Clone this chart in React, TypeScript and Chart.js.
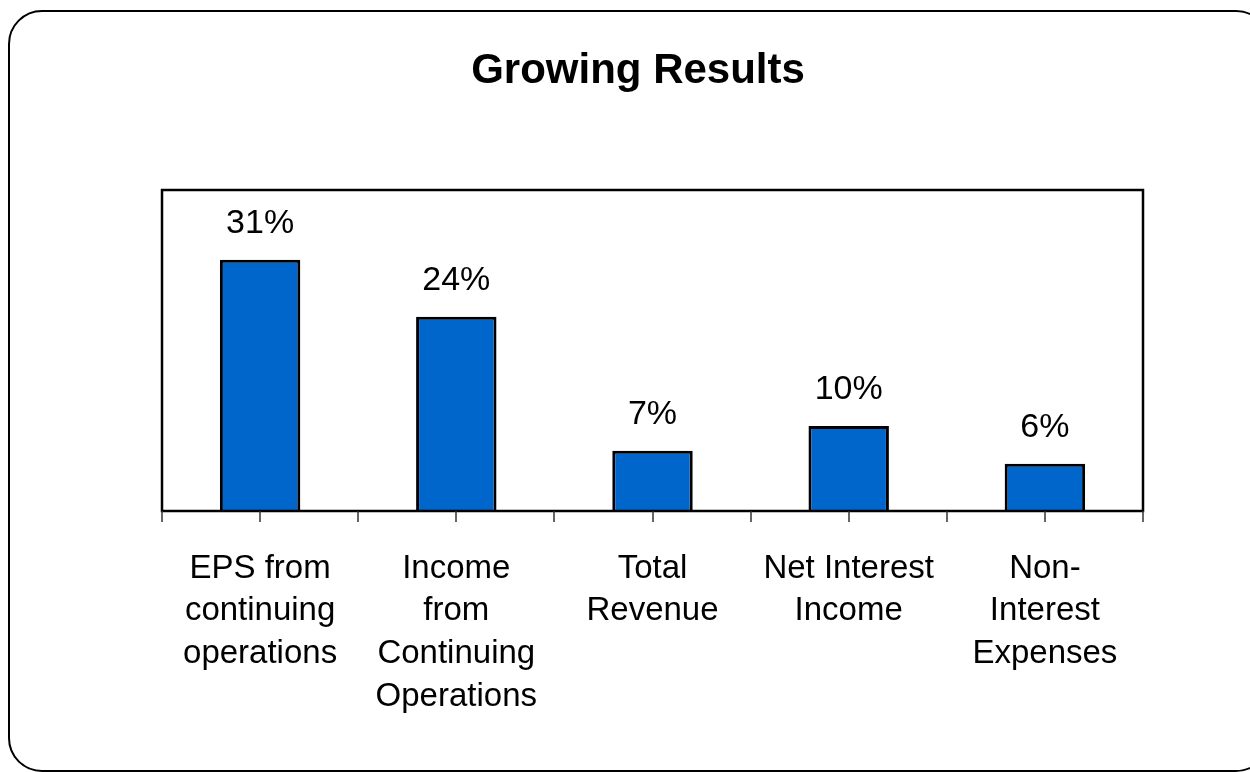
import React, { useEffect, useRef } from "react";
import { Chart, registerables } from "chart.js";

Chart.register(...registerables);

const categories: string[][] = [
  ["EPS from", "continuing", "operations"],
  ["Income", "from", "Continuing", "Operations"],
  ["Total", "Revenue"],
  ["Net Interest", "Income"],
  ["Non-", "Interest", "Expenses"],
];
const growthValues: number[] = [31.3, 24.2, 7.5, 10.6, 5.9];
const valueLabels: string[] = ["31%", "24%", "7%", "10%", "6%"];
const chartTitle = "Growing Results";

const FONT = "'Liberation Sans', Arial, sans-serif";

export default function App() {
  const ref = useRef<HTMLCanvasElement | null>(null);

  useEffect(() => {
    document.body.style.margin = "0";
    const canvas = ref.current;
    if (!canvas) return;

    const decor = {
      id: "decor",
      afterDraw(chart: any) {
        const { ctx, chartArea } = chart;
        const xs = chart.scales.x;
        const meta = chart.getDatasetMeta(0);
        ctx.save();
        // title
        ctx.fillStyle = "#000";
        ctx.font = `bold 42px ${FONT}`;
        ctx.textAlign = "center";
        ctx.textBaseline = "alphabetic";
        ctx.fillText(chartTitle, 638, 83);
        // plot frame
        ctx.strokeStyle = "#000";
        ctx.lineWidth = 2.5;
        ctx.strokeRect(chartArea.left, chartArea.top, chartArea.right - chartArea.left, chartArea.bottom - chartArea.top);
        // tick marks (boundaries + centers)
        const n = categories.length;
        const w = (chartArea.right - chartArea.left) / n;
        ctx.strokeStyle = "#333";
        ctx.lineWidth = 1.5;
        for (let i = 0; i < n; i++) {
          const c = xs.getPixelForValue(i);
          const pts = [c - w / 2, c];
          if (i === n - 1) pts.push(c + w / 2);
          for (const p of pts) {
            const px = Math.round(p);
            ctx.beginPath();
            ctx.moveTo(px, chartArea.bottom);
            ctx.lineTo(px, chartArea.bottom + 11);
            ctx.stroke();
          }
        }
        // value labels
        ctx.fillStyle = "#000";
        ctx.font = `34px ${FONT}`;
        meta.data.forEach((bar: any, i: number) => {
          ctx.fillText(valueLabels[i], bar.x, bar.y - 27);
        });
        ctx.restore();
      },
    };

    const chart = new Chart(canvas, {
      type: "bar",
      data: {
        labels: categories,
        datasets: [
          {
            data: growthValues,
            backgroundColor: "#0066CC",
            borderColor: "#000",
            borderWidth: 3,
            barPercentage: 0.41,
            categoryPercentage: 1,
          },
        ],
      },
      options: {
        animation: false,
        responsive: false,
        maintainAspectRatio: false,
        layout: { padding: { left: 162, right: 107, top: 190, bottom: 0 } },
        plugins: {
          legend: { display: false },
          tooltip: { enabled: false },
          title: { display: false },
        },
        scales: {
          x: {
            grid: { display: false },
            border: { display: false },
            ticks: {
              color: "#000",
              font: { family: FONT, size: 33, lineHeight: 1.3 },
              padding: 28,
              maxRotation: 0,
              autoSkip: false,
            },
            afterFit: (s: any) => {
              s.height = 261;
            },
          },
          y: {
            display: false,
            min: 0,
            max: 40,
          },
        },
      },
      plugins: [decor],
    });
    return () => chart.destroy();
  }, []);

  return (
    <div style={{ position: "relative", width: 1250, height: 772, overflow: "hidden", background: "#fff" }}>
      <div
        style={{
          position: "absolute",
          left: 8,
          top: 10,
          width: 1262,
          height: 762,
          border: "2px solid #000",
          borderRadius: 34,
          boxSizing: "border-box",
        }}
      />
      <canvas ref={ref} width={1250} height={772} style={{ position: "absolute", left: 0, top: 0 }} />
    </div>
  );
}
